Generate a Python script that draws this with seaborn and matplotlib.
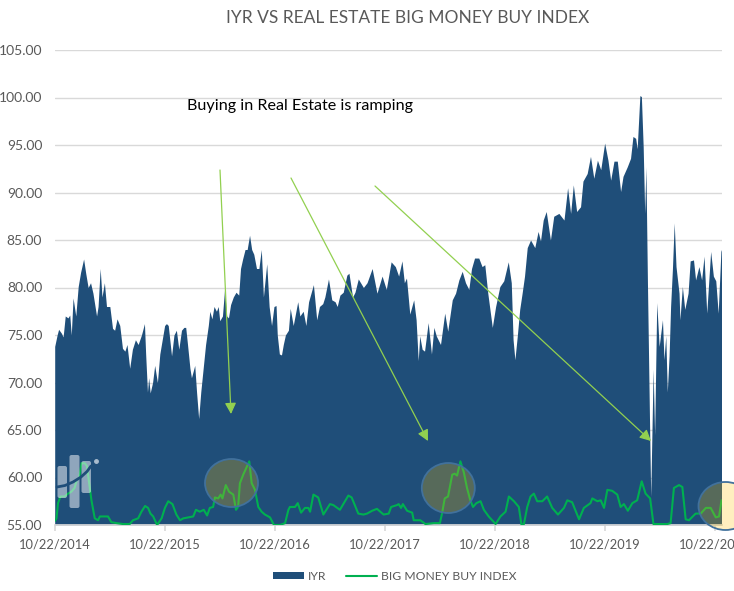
import numpy as np
import pandas as pd
import matplotlib.pyplot as plt
import seaborn as sns
from matplotlib.patches import Ellipse, FancyBboxPatch

sns.set_theme(style="white")
plt.rcParams["font.family"] = ["Lato", "DejaVu Sans"]

GREY = "#595959"
NAVY = "#1F4E79"
GREEN = "#00B050"
ARROW = "#92D050"

start = pd.Timestamp("2014-10-22")

# (days since start, price)
iyr = [
    (0, 73.8), (8, 75), (13, 75.6), (22, 75.2), (28, 74.8), (35, 77), (44, 76.8), (50, 77.1), (55, 75), (61, 78.9),
    (70, 77), (78, 80.1), (86, 81.6), (96, 83), (103, 81.5), (111, 80), (119, 80.5), (127, 79.4), (139, 77), (144, 78),
    (151, 82), (157, 79), (165, 80.5), (172, 78), (183, 78), (192, 75.7), (199, 75.5), (207, 76.7), (216, 76), (225, 73.6),
    (233, 73.3), (240, 74), (249, 71.5), (258, 73.5), (268, 74.5), (277, 74), (288, 75), (298, 76.2), (302, 73), (308, 69),
    (312, 70.5), (317, 68.9), (325, 70), (332, 71.8), (341, 70), (349, 73), (357, 74.5), (365, 76), (371, 76.2), (377, 76),
    (388, 72.8), (396, 75), (404, 75.5), (412, 73.5), (421, 75.5), (429, 75.8), (435, 75.8), (441, 74), (449, 71.5), (454, 70.5),
    (465, 71.8), (471, 69), (478, 66.2), (485, 69), (493, 71.5), (501, 74), (510, 76), (515, 77.5), (522, 76.7), (529, 78),
    (537, 77.5), (543, 78), (548, 76.5), (557, 77), (564, 79.8), (571, 77), (577, 76.8), (584, 78.2), (593, 79), (602, 79.5),
    (611, 79.2), (617, 82), (624, 83), (632, 84), (639, 84), (647, 85.5), (654, 84), (661, 83.5), (670, 82), (678, 82),
    (686, 84), (693, 79), (704, 82.5), (712, 78), (720, 76), (728, 78), (735, 78.1), (739, 75), (746, 73), (753, 72.9),
    (759, 74), (766, 75), (776, 75.5), (782, 77.8), (792, 76), (807, 78.5), (814, 77), (825, 77.5), (834, 76), (843, 78.5),
    (859, 80.3), (870, 76.6), (879, 78), (890, 78.3), (897, 79), (909, 80.9), (920, 78.7), (931, 78.5), (938, 78), (947, 79.2),
    (958, 79.5), (970, 81.3), (977, 81.5), (989, 79), (997, 79.5), (1008, 80.9), (1025, 80), (1037, 80.5), (1054, 82), (1070, 79.4),
    (1087, 81.2), (1101, 79.8), (1117, 82.7), (1131, 82.2), (1142, 81.2), (1153, 82.8), (1161, 80.5), (1168, 81), (1179, 77.2), (1192, 78.7),
    (1200, 76.6), (1207, 72.3), (1212, 74.9), (1220, 73.5), (1228, 73.3), (1240, 76.3), (1251, 73), (1259, 75.8), (1267, 74.9), (1281, 74),
    (1295, 77.3), (1305, 75.4), (1320, 78.7), (1331, 79.4), (1342, 80.8), (1353, 81.7), (1364, 80.5), (1375, 79.8), (1384, 82), (1394, 83.1),
    (1408, 83.1), (1419, 82.2), (1428, 82.4), (1438, 79.4), (1453, 75.8), (1464, 78), (1478, 80.1), (1491, 80.7), (1506, 82.7), (1516, 80.5),
    (1522, 74.5), (1528, 72.4), (1536, 74.9), (1544, 77.7), (1552, 79.4), (1560, 81.2), (1569, 84.2), (1580, 85), (1594, 84.2), (1605, 85.9),
    (1613, 84.9), (1622, 87.1), (1632, 88), (1646, 85), (1657, 87.5), (1674, 87.8), (1691, 87.1), (1703, 90.5), (1713, 87.8), (1722, 90.8),
    (1733, 88), (1746, 88.5), (1754, 91.2), (1768, 92), (1779, 93.8), (1790, 91.5), (1802, 93.4), (1813, 92.4), (1826, 95.2), (1837, 93.4),
    (1846, 91.3), (1857, 93.3), (1868, 93.3), (1879, 90.1), (1887, 91.7), (1901, 92.7), (1912, 93.6), (1920, 95.9), (1929, 95.7), (1934, 94.6),
    (1943, 100.2), (1948, 100.1), (1954, 94.8), (1959, 87.8), (1963, 92.7), (1968, 80.8), (1975, 66), (1979, 58), (1987, 71.4), (1992, 64.5),
    (1999, 78.4), (2007, 73.8), (2018, 76.6), (2023, 72.4), (2029, 74.9), (2034, 69), (2040, 72.8), (2045, 78), (2051, 81.9), (2057, 86.8),
    (2063, 82.2), (2073, 79.4), (2076, 76.6), (2084, 80.1), (2092, 77.7), (2103, 79.4), (2110, 82.8), (2121, 82.9), (2128, 80.8), (2139, 82.2),
    (2148, 80.8), (2156, 83.3), (2165, 77.3), (2178, 83.8), (2187, 81.2), (2195, 80.7), (2203, 77.3), (2212, 83.8), (2214, 84),
]

# big money index, same axis
bmi = [
    (0, 55.4), (6, 55.7), (11, 57.3), (19, 58), (33, 58), (44, 58.3), (55, 58.5), (66, 58.9), (74, 59.8), (81, 59.9),
    (89, 61.5), (100, 61.5), (107, 61.2), (116, 59), (122, 57.6), (133, 55.7), (144, 55.5), (150, 55.9), (161, 55.9), (177, 55.9),
    (188, 55.3), (205, 55.2), (227, 55.1), (249, 55.1), (260, 55.5), (277, 55.7), (288, 56.4), (300, 57), (310, 56.8), (318, 56.2),
    (327, 55.9), (340, 55), (355, 55.7), (366, 56.8), (377, 57.5), (391, 57.2), (404, 56.1), (416, 55.5), (427, 55.7), (443, 55.8),
    (460, 55.9), (469, 56.6), (482, 56.4), (495, 56.6), (506, 56), (515, 56.8), (526, 56.9), (532, 57.9), (543, 57.8), (551, 58.2),
    (557, 57.8), (568, 59.2), (579, 58.5), (593, 58.2), (602, 56.6), (609, 56.9), (615, 59.4), (626, 60.3), (639, 61.2), (646, 61.7),
    (654, 59.4), (665, 58.7), (676, 56.9), (687, 56.4), (698, 56.1), (715, 55.8), (728, 55), (748, 55), (765, 55.2), (776, 56.6),
    (781, 56.9), (798, 56.9), (807, 57.3), (818, 56.3), (831, 56.8), (842, 56.8), (848, 56.4), (859, 58.2), (875, 57.9), (892, 56.1),
    (914, 57.2), (925, 57.1), (947, 56.6), (975, 58.1), (986, 57.9), (1008, 56.2), (1025, 56.1), (1037, 56.2), (1054, 56.5), (1070, 56.7),
    (1092, 56.1), (1109, 56.2), (1117, 56.9), (1137, 57.1), (1142, 57.2), (1150, 56.8), (1156, 57.2), (1170, 56.5), (1187, 56.3), (1192, 55.5),
    (1214, 55.5), (1231, 55.1), (1259, 55.2), (1279, 55.2), (1286, 56.2), (1295, 57.8), (1306, 58), (1320, 60.3), (1328, 60.4), (1336, 60.2),
    (1347, 61.7), (1358, 60.6), (1369, 58.9), (1380, 57.6), (1389, 56.9), (1400, 57.3), (1414, 57.5), (1425, 56.6), (1441, 55.9), (1464, 55.1),
    (1480, 55.9), (1497, 56.4), (1508, 58), (1525, 57.5), (1541, 56.9), (1550, 55), (1558, 55.1), (1569, 56.9), (1580, 58), (1591, 58.3),
    (1602, 57.5), (1619, 57.5), (1635, 58), (1652, 56.8), (1671, 56.1), (1691, 56.8), (1702, 57.6), (1718, 57.4), (1741, 55.6), (1757, 56.8),
    (1779, 57.3), (1785, 57.8), (1802, 57.5), (1813, 57.6), (1824, 56.8), (1835, 58.7), (1851, 58.6), (1868, 58.2), (1879, 56.9), (1890, 57.2),
    (1903, 56.5), (1918, 57.3), (1934, 57.6), (1949, 59.6), (1962, 58.3), (1977, 57.8), (1988, 55.1), (2012, 55.1), (2034, 55.1), (2045, 55.2),
    (2056, 58.9), (2073, 59.2), (2084, 59), (2095, 55.6), (2106, 55.5), (2128, 56.2), (2145, 56.2), (2162, 56.8), (2178, 56.8), (2195, 55.8),
    (2206, 55.9), (2214, 57.6),
]

df_iyr = pd.DataFrame(iyr, columns=["days", "price"])
df_iyr["date"] = start + pd.to_timedelta(df_iyr["days"], unit="D")
df_bmi = pd.DataFrame(bmi, columns=["days", "index"])
df_bmi["date"] = start + pd.to_timedelta(df_bmi["days"], unit="D")

W, H = 734, 591
fig = plt.figure(figsize=(W / 100, H / 100), dpi=100)
ax = fig.add_axes([54.7 / W, 1 - 525 / H, (721.5 - 54.7) / W, (525 - 50) / H])

ax.fill_between(df_iyr["date"], df_iyr["price"], 55, color=NAVY, lw=0, label="IYR", zorder=2)
sns.lineplot(data=df_bmi, x="date", y="index", color=GREEN, lw=1.5, label="BIG MONEY BUY INDEX", ax=ax, zorder=3, legend=False)

ax.set_xlim(start, start + pd.Timedelta(days=2214))
ax.set_ylim(55, 105)
ax.set_yticks(np.arange(55, 106, 5))
ax.set_yticklabels([f"{v:.2f}" for v in np.arange(55, 106, 5)])
xt = pd.to_datetime([f"{y}-10-22" for y in range(2014, 2021)])
ax.set_xticks(xt)
ax.set_xticklabels([d.strftime("%m/%d/%Y") for d in xt])
ax.set_xlabel("")
ax.set_ylabel("")
ax.grid(axis="y", color="#D9D9D9", lw=1, zorder=0)
ax.set_axisbelow(True)
sns.despine(ax=ax, left=True, top=True, right=True)
ax.spines["bottom"].set_color("#D9D9D9")
ax.tick_params(axis="y", length=0, labelsize=10, labelcolor=GREY, pad=9)
ax.tick_params(axis="x", length=4, color="#D9D9D9", bottom=True, labelsize=9.3, labelcolor=GREY, pad=5.5)

fig.text(408 / W, 1 - 18 / H, "IYR VS REAL ESTATE BIG MONEY BUY INDEX", ha="center", va="center", fontsize=12.5, color=GREY)

fig.legend(*ax.get_legend_handles_labels(), loc="center", bbox_to_anchor=(395 / W, 1 - 576 / H), ncol=2, frameon=False,
           fontsize=8.7, labelcolor=GREY, handlelength=2.55, handleheight=0.55, handletextpad=0.35, columnspacing=1.6)

# annotations live in a pixel overlay
over = fig.add_axes([0, 0, 1, 1], facecolor="none")
over.set_xlim(0, W)
over.set_ylim(H, 0)
over.axis("off")

over.text(187, 106, "Buying in Real Estate is ramping", ha="left", va="center", fontsize=11.65, color="black")

for tail, head in [((220, 170), (231, 414)), ((291, 178), (428, 441)), ((375, 186), (651, 441))]:
    over.annotate("", xy=head, xytext=tail,
                  arrowprops=dict(arrowstyle="-|>,head_length=0.55,head_width=0.28", color=ARROW, lw=0.9, shrinkA=0, shrinkB=0))

for cx, cy, w, h in [(231.5, 483, 53, 48), (448.3, 488, 53, 50), (725.5, 506, 54, 48)]:
    over.add_patch(Ellipse((cx, cy), w, h, facecolor=(1, 0.753, 0, 0.25), edgecolor="#41719C", lw=1.3))

# faint logo bottom left
for x0, x1, y0, y1 in [(57.5, 67, 466, 498), (69.5, 79.5, 455, 508), (81.5, 91, 461, 493)]:
    over.add_patch(FancyBboxPatch((x0 + 2, y0 + 2), x1 - x0 - 4, y1 - y0 - 4, boxstyle="round,pad=2", fc=(1, 1, 1, 0.5), ec="none"))
arc_x = np.array([57, 65, 73, 81, 87, 91])
arc_y = np.array([487, 485.5, 482, 477, 471.5, 466])
over.plot(arc_x, arc_y, color=NAVY, lw=2)
over.plot([95.5], [461], "o", ms=2.5, color="#A9BCCD")

fig.savefig("out.png", dpi=100)
